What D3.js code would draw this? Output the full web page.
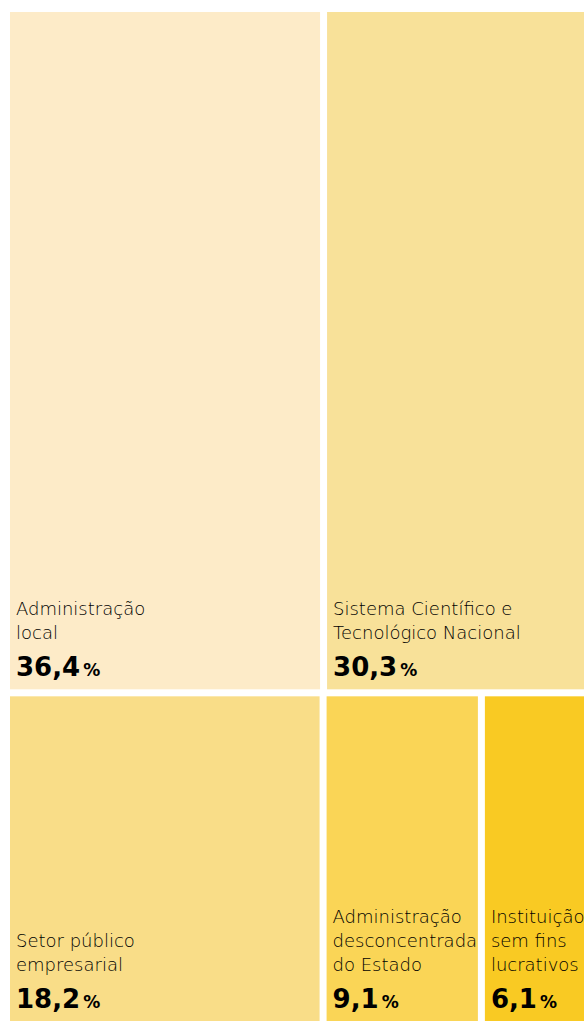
<!DOCTYPE html>
<html>
<head>
<meta charset="utf-8">
<script src="https://cdn.jsdelivr.net/npm/d3@7"></script>
<style>
  body { margin: 0; background: #fff; }
</style>
</head>
<body>
<div id="chart"></div>
<script>
// categorias e rótulos (quebra de linha como no original)
const categories = [
    "Administração local",
    "Sistema Científico e Tecnológico Nacional",
    "Setor público empresarial",
    "Administração desconcentrada do Estado",
    "Instituição sem fins lucrativos"
];
const labelLines = [
    ["Administração", "local"],
    ["Sistema Científico e", "Tecnológico Nacional"],
    ["Setor público", "empresarial"],
    ["Administração", "desconcentrada", "do Estado"],
    ["Instituição", "sem fins", "lucrativos"]
];
const shares = [36.4, 30.3, 18.2, 9.1, 6.1];
const palette = ["#fdebc8", "#f8e199", "#f9dd88", "#fad556", "#f9ca23"];

const width = 585;
const height = 1021;
const margin = { top: 12, left: 10 };

const color = d3.scaleOrdinal().domain(categories).range(palette);
const fmt = v => d3.format(".1f")(v).replace(".", ",");

const svg = d3.select("#chart")
    .append("svg")
    .attr("width", width)
    .attr("height", height)
    .style("font-family", "'DejaVu Sans', sans-serif");

const root = d3.hierarchy({
        children: categories.map((c, i) => ({ name: c, lines: labelLines[i], value: shares[i] }))
    })
    .sum(d => d.value || 0)
    .sort((a, b) => b.value - a.value);

// a área do treemap continua abaixo do corte da imagem
d3.treemap()
    .size([574, 1020])
    .paddingInner(7)
    .tile(d3.treemapSquarify)(root);

const g = svg.append("g")
    .attr("transform", `translate(${margin.left}, ${margin.top})`);

const cell = g.selectAll("g.cell")
    .data(root.leaves())
    .join("g")
    .attr("class", "cell");

cell.append("rect")
    .attr("x", d => d.x0)
    .attr("y", d => d.y0)
    .attr("width", d => d.x1 - d.x0)
    .attr("height", d => d.y1 - d.y0)
    .attr("fill", d => color(d.data.name));

// base visível de cada célula (cortada pela altura do svg)
const baseY = d => Math.min(d.y1, height - margin.top) - 13;

const value = cell.append("text")
    .attr("x", d => d.x0 + 6)
    .attr("y", baseY)
    .style("font-weight", "bold")
    .style("font-size", "26px")
    .style("fill", "#000");
value.append("tspan").text(d => fmt(d.data.value));
value.append("tspan")
    .style("font-size", "17px")
    .attr("dx", 3)
    .text("%");

cell.each(function (d) {
    const lines = d.data.lines;
    d3.select(this).append("text")
        .attr("x", d.x0 + 6)
        .style("font-size", "18px")
        .style("font-weight", 200)
        .style("fill", "#000")
        .selectAll("tspan")
        .data(lines)
        .join("tspan")
        .attr("x", d.x0 + 6)
        .attr("y", (l, i) => baseY(d) - 37 - (lines.length - 1 - i) * 24)
        .text(l => l);
});
</script>
</body>
</html>
